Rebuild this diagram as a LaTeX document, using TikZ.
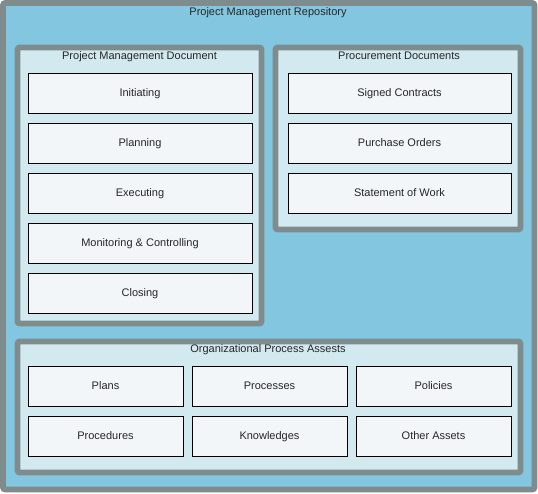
\documentclass[tikz,border=0pt]{standalone}
\usepackage{fontspec}
\setmainfont{Liberation Sans}
\definecolor{repoblue}{HTML}{83C6DF}
\definecolor{panelblue}{HTML}{D2E9F0}
\definecolor{boxwhite}{HTML}{F2F6F9}
\definecolor{framegray}{HTML}{7F8C8D}

\begin{document}
\begin{tikzpicture}[x=0.75pt,y=0.75pt,yscale=-1,xscale=1,
    every node/.style={font=\fontsize{8.25}{10}\selectfont, text=black!85, text depth=0pt},
    frame/.style={draw=framegray, line width=4.2pt, rounded corners=1.5pt},
    itembox/.style={draw=black, fill=boxwhite, line width=0.75pt, inner sep=0pt,
        minimum height=30pt}]
        \useasboundingbox (0,0) rectangle (538,493);
        %Outer Frame
        \draw [frame, fill=repoblue] (3,3) rectangle (534.5,489.5);
        \node (repo) at (268,11.5) {Project Management Repository};
        %Project Management Document
        \draw [frame, fill=panelblue] (17.5,47.5) rectangle (261.5,323.5);
        \node (pmdoc) at (139.5,56) {Project Management Document};
        \node [itembox, minimum width=168pt] (init) at (140,93) {Initiating};
        \node [itembox, minimum width=168pt] (plan) at (140,143) {Planning};
        \node [itembox, minimum width=168pt] (exec) at (140,193) {Executing};
        \node [itembox, minimum width=168pt] (moni) at (140,243) {Monitoring \& Controlling};
        \node [itembox, minimum width=168pt] (clos) at (140,293) {Closing};
        %Procurement Documents
        \draw [frame, fill=panelblue] (275.5,47.5) rectangle (520.5,229.5);
        \node (procdoc) at (399,56) {Procurement Documents};
        \node [itembox, minimum width=167.25pt] (cont) at (399.5,93) {Signed Contracts};
        \node [itembox, minimum width=167.25pt] (order) at (399.5,143) {Purchase Orders};
        \node [itembox, minimum width=167.25pt] (work) at (399.5,193) {Statement of Work};
        %Organizational Process Assests
        \draw [frame, fill=panelblue] (17.5,341.5) rectangle (520.5,472.5);
        \node (opa) at (268,349) {Organizational Process Assests};
        \node [itembox, minimum width=116.25pt] (plans) at (105.5,386) {Plans};
        \node [itembox, minimum width=116.25pt] (procs) at (269.5,386) {Processes};
        \node [itembox, minimum width=116.25pt] (poli) at (433.5,386) {Policies};
        \node [itembox, minimum width=116.25pt] (proced) at (105.5,436) {Procedures};
        \node [itembox, minimum width=116.25pt] (know) at (269.5,436) {Knowledges};
        \node [itembox, minimum width=116.25pt] (other) at (433.5,436) {Other Assets};
    \end{tikzpicture}
\end{document}
